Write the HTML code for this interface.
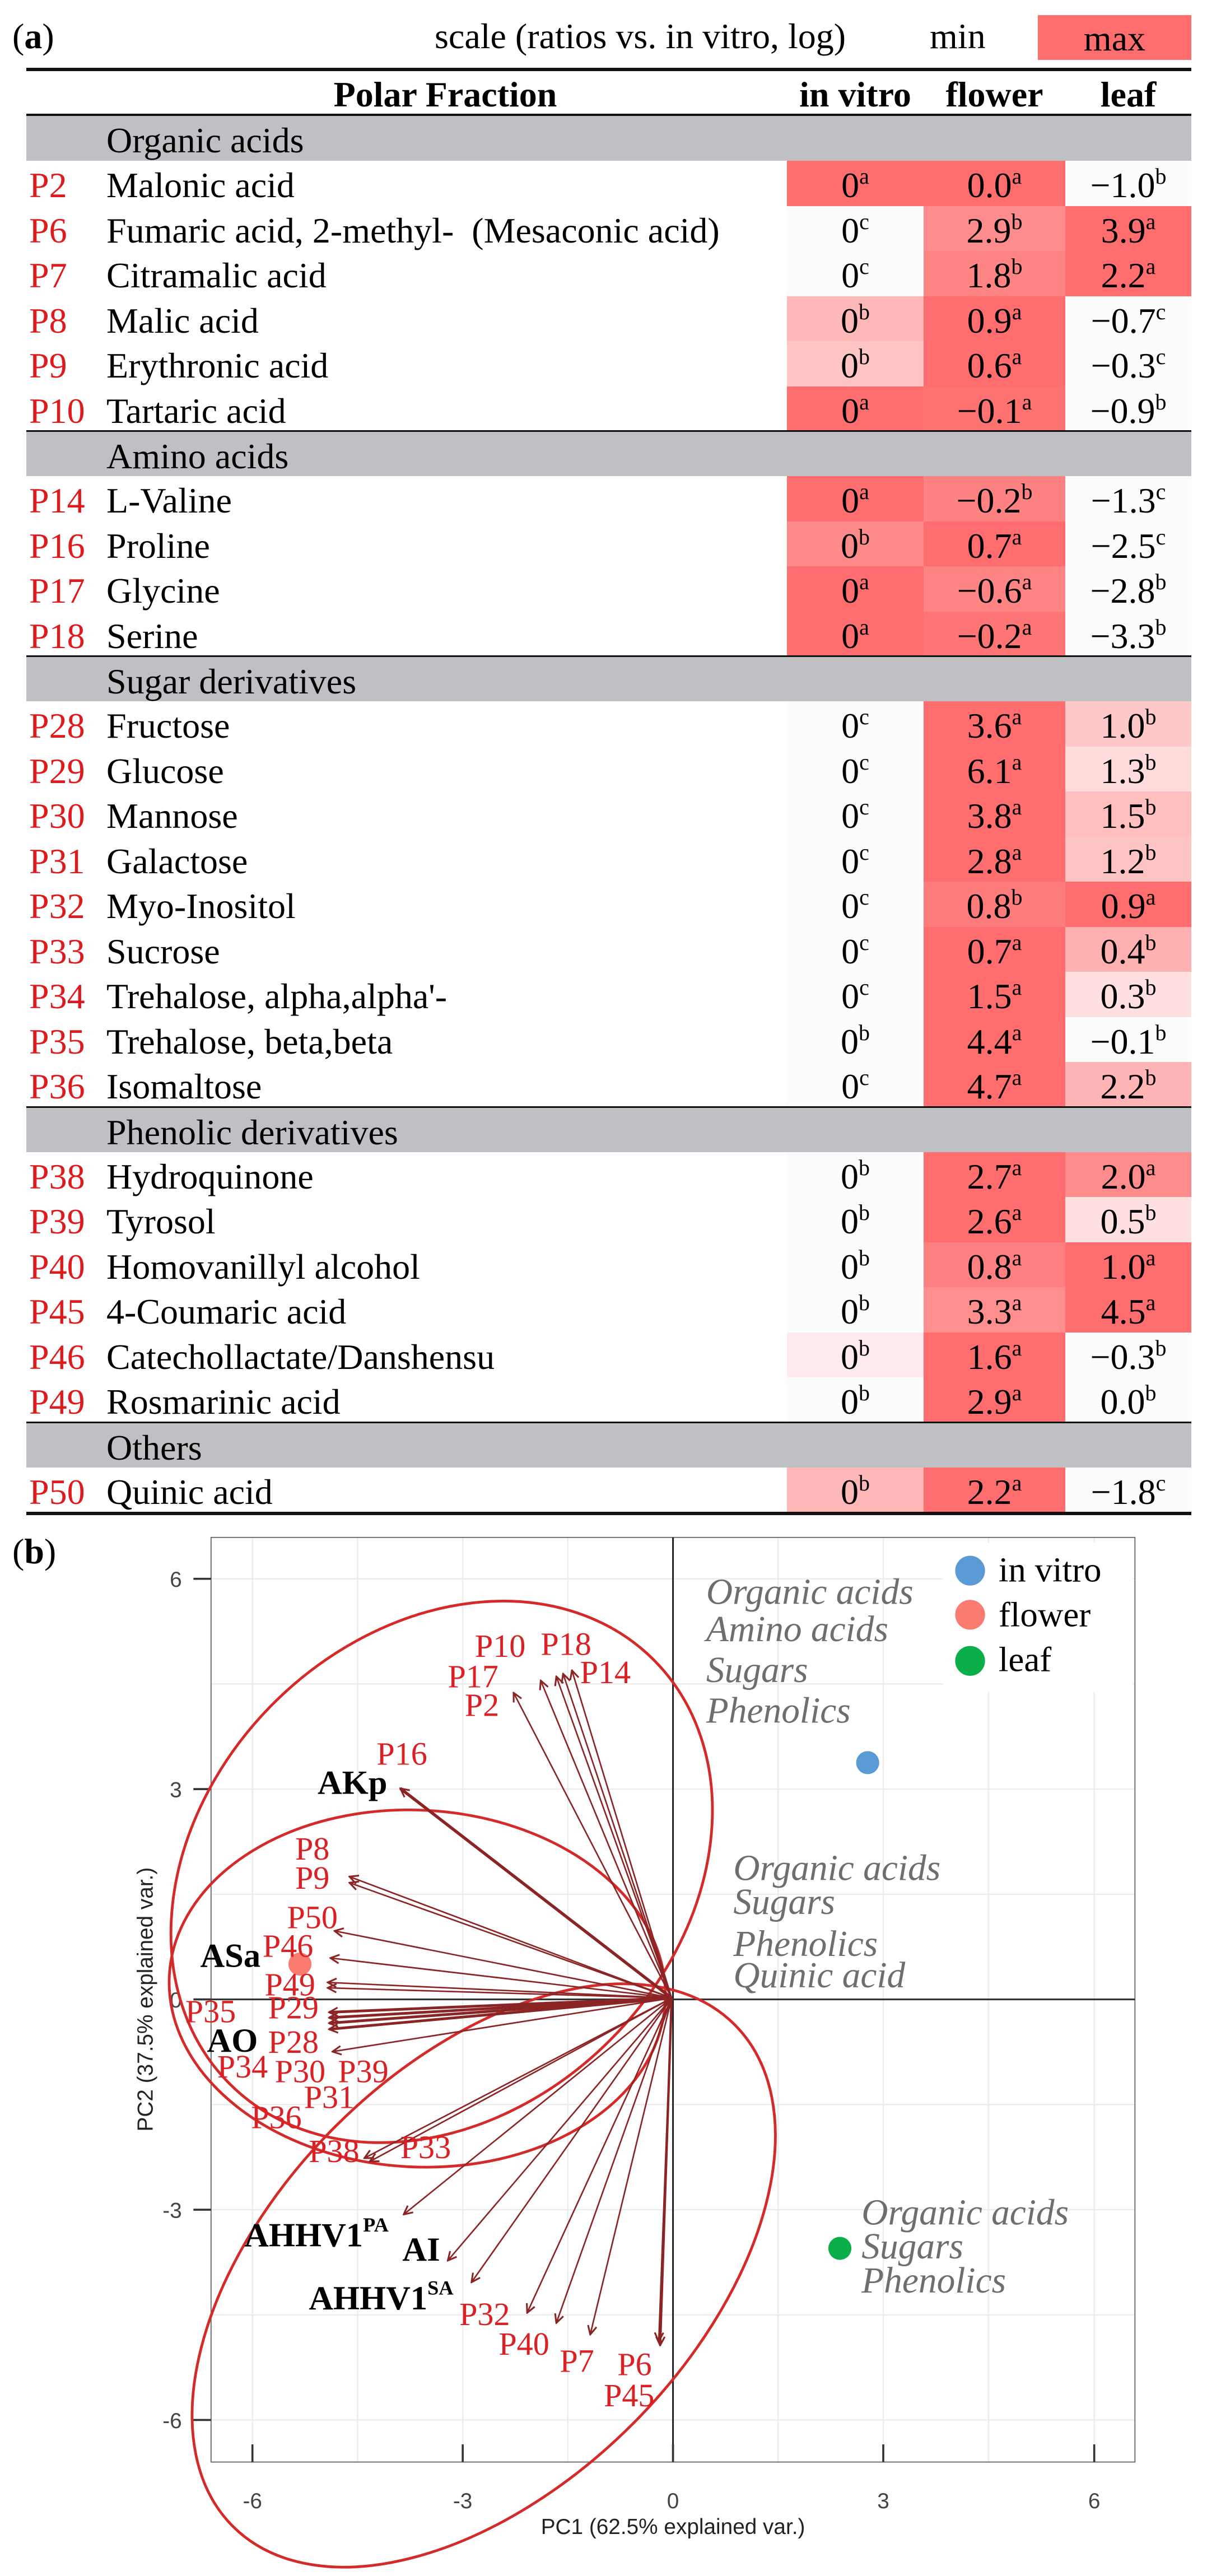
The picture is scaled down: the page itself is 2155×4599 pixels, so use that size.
<!DOCTYPE html>
<html><head><meta charset="utf-8">
<style>
html,body{margin:0;padding:0;background:#fff;}
body{width:2155px;height:4599px;position:relative;overflow:hidden;font-family:"Liberation Serif",serif;font-size:64px;color:#000;}
.abs{position:absolute;}
.line{position:absolute;left:47px;width:2080px;background:#111;}
.r{position:absolute;left:0;width:2155px;height:81px;line-height:88px;white-space:nowrap;}
.p{position:absolute;left:52px;color:#e0191c;}
.n{position:absolute;left:190px;}
.c{position:absolute;top:0;height:81px;text-align:center;background:#fcfcfc;}
.c1{left:1405px;width:244px;}.c2{left:1649px;width:253px;}.c3{left:1902px;width:225px;}
.S{background:#ff6d6e;}
sup{font-size:40px;vertical-align:24px;line-height:0;}
.g{position:absolute;left:47px;width:2080px;height:80px;background:#bfc0c3;line-height:88px;white-space:nowrap;}
.g span{position:absolute;left:143px;}
.h{position:absolute;top:127px;height:78px;line-height:84px;font-weight:bold;text-align:center;}
</style></head><body>
<div class="abs" style="left:22px;top:20px;line-height:90px;">(<b>a</b>)</div>
<div class="abs" style="left:776px;top:20px;line-height:90px;white-space:nowrap;">scale (ratios vs. in vitro, log)</div>
<div class="abs" style="left:1660px;top:20px;line-height:90px;">min</div>
<div class="abs" style="left:1853px;top:27px;width:274px;height:80px;background:#ff6d6e;text-align:center;line-height:84px;">max</div>
<div class="line" style="top:121px;height:6px;"></div>
<div class="h" style="left:560px;width:470px;">Polar Fraction</div>
<div class="h" style="left:1405px;width:244px;">in vitro</div>
<div class="h" style="left:1649px;width:253px;">flower</div>
<div class="h" style="left:1902px;width:225px;">leaf</div>
<div class="line" style="top:203px;height:4px;"></div>

<div class="g" style="top:207px;"><span>Organic acids</span></div>
<div class="r" style="top:287px"><span class="p">P2</span><span class="n">Malonic acid</span><div class="c c1 S">0<sup>a</sup></div><div class="c c2 S">0.0<sup>a</sup></div><div class="c c3">−1.0<sup>b</sup></div></div>
<div class="r" style="top:367.5px"><span class="p">P6</span><span class="n">Fumaric acid, 2-methyl-&nbsp; (Mesaconic acid)</span><div class="c c1">0<sup>c</sup></div><div class="c c2" style="background:#ff8c8c">2.9<sup>b</sup></div><div class="c c3 S">3.9<sup>a</sup></div></div>
<div class="r" style="top:448px"><span class="p">P7</span><span class="n">Citramalic acid</span><div class="c c1">0<sup>c</sup></div><div class="c c2" style="background:#ff8585">1.8<sup>b</sup></div><div class="c c3 S">2.2<sup>a</sup></div></div>
<div class="r" style="top:528.5px"><span class="p">P8</span><span class="n">Malic acid</span><div class="c c1" style="background:#ffb8b8">0<sup>b</sup></div><div class="c c2 S">0.9<sup>a</sup></div><div class="c c3">−0.7<sup>c</sup></div></div>
<div class="r" style="top:609px"><span class="p">P9</span><span class="n">Erythronic acid</span><div class="c c1" style="background:#ffc5c5">0<sup>b</sup></div><div class="c c2 S">0.6<sup>a</sup></div><div class="c c3">−0.3<sup>c</sup></div></div>
<div class="r" style="top:689.5px"><span class="p">P10</span><span class="n">Tartaric acid</span><div class="c c1 S">0<sup>a</sup></div><div class="c c2" style="background:#ff7272">−0.1<sup>a</sup></div><div class="c c3">−0.9<sup>b</sup></div></div>

<div class="line" style="top:768px;height:3px;"></div>
<div class="g" style="top:771px;height:79px;"><span>Amino acids</span></div>
<div class="r" style="top:850px"><span class="p">P14</span><span class="n">L-Valine</span><div class="c c1 S">0<sup>a</sup></div><div class="c c2" style="background:#ff8282">−0.2<sup>b</sup></div><div class="c c3">−1.3<sup>c</sup></div></div>
<div class="r" style="top:930.5px"><span class="p">P16</span><span class="n">Proline</span><div class="c c1" style="background:#ff8a8a">0<sup>b</sup></div><div class="c c2 S">0.7<sup>a</sup></div><div class="c c3">−2.5<sup>c</sup></div></div>
<div class="r" style="top:1011px"><span class="p">P17</span><span class="n">Glycine</span><div class="c c1 S">0<sup>a</sup></div><div class="c c2" style="background:#ff8585">−0.6<sup>a</sup></div><div class="c c3">−2.8<sup>b</sup></div></div>
<div class="r" style="top:1091.5px"><span class="p">P18</span><span class="n">Serine</span><div class="c c1 S">0<sup>a</sup></div><div class="c c2" style="background:#ff7474">−0.2<sup>a</sup></div><div class="c c3">−3.3<sup>b</sup></div></div>

<div class="line" style="top:1170px;height:3px;"></div>
<div class="g" style="top:1173px;height:79px;"><span>Sugar derivatives</span></div>
<div class="r" style="top:1252px"><span class="p">P28</span><span class="n">Fructose</span><div class="c c1">0<sup>c</sup></div><div class="c c2 S">3.6<sup>a</sup></div><div class="c c3" style="background:#ffc8c8">1.0<sup>b</sup></div></div>
<div class="r" style="top:1332.5px"><span class="p">P29</span><span class="n">Glucose</span><div class="c c1">0<sup>c</sup></div><div class="c c2 S">6.1<sup>a</sup></div><div class="c c3" style="background:#ffdcdc">1.3<sup>b</sup></div></div>
<div class="r" style="top:1413px"><span class="p">P30</span><span class="n">Mannose</span><div class="c c1">0<sup>c</sup></div><div class="c c2 S">3.8<sup>a</sup></div><div class="c c3" style="background:#ffbfbf">1.5<sup>b</sup></div></div>
<div class="r" style="top:1493.5px"><span class="p">P31</span><span class="n">Galactose</span><div class="c c1">0<sup>c</sup></div><div class="c c2 S">2.8<sup>a</sup></div><div class="c c3" style="background:#ffc4c4">1.2<sup>b</sup></div></div>
<div class="r" style="top:1574px"><span class="p">P32</span><span class="n">Myo-Inositol</span><div class="c c1">0<sup>c</sup></div><div class="c c2" style="background:#ff7c7c">0.8<sup>b</sup></div><div class="c c3 S">0.9<sup>a</sup></div></div>
<div class="r" style="top:1654.5px"><span class="p">P33</span><span class="n">Sucrose</span><div class="c c1">0<sup>c</sup></div><div class="c c2 S">0.7<sup>a</sup></div><div class="c c3" style="background:#ffb0b0">0.4<sup>b</sup></div></div>
<div class="r" style="top:1735px"><span class="p">P34</span><span class="n">Trehalose, alpha,alpha'-</span><div class="c c1">0<sup>c</sup></div><div class="c c2 S">1.5<sup>a</sup></div><div class="c c3" style="background:#ffe0e0">0.3<sup>b</sup></div></div>
<div class="r" style="top:1815.5px"><span class="p">P35</span><span class="n">Trehalose, beta,beta</span><div class="c c1">0<sup>b</sup></div><div class="c c2 S">4.4<sup>a</sup></div><div class="c c3">−0.1<sup>b</sup></div></div>
<div class="r" style="top:1896px"><span class="p">P36</span><span class="n">Isomaltose</span><div class="c c1">0<sup>c</sup></div><div class="c c2 S">4.7<sup>a</sup></div><div class="c c3" style="background:#ffb5b5">2.2<sup>b</sup></div></div>

<div class="line" style="top:1975px;height:3px;"></div>
<div class="g" style="top:1978px;height:79px;"><span>Phenolic derivatives</span></div>
<div class="r" style="top:2056.5px"><span class="p">P38</span><span class="n">Hydroquinone</span><div class="c c1">0<sup>b</sup></div><div class="c c2 S">2.7<sup>a</sup></div><div class="c c3" style="background:#ff8c8c">2.0<sup>a</sup></div></div>
<div class="r" style="top:2137px"><span class="p">P39</span><span class="n">Tyrosol</span><div class="c c1">0<sup>b</sup></div><div class="c c2 S">2.6<sup>a</sup></div><div class="c c3" style="background:#ffe0e0">0.5<sup>b</sup></div></div>
<div class="r" style="top:2217.5px"><span class="p">P40</span><span class="n">Homovanillyl alcohol</span><div class="c c1">0<sup>b</sup></div><div class="c c2" style="background:#ff8080">0.8<sup>a</sup></div><div class="c c3 S">1.0<sup>a</sup></div></div>
<div class="r" style="top:2298px"><span class="p">P45</span><span class="n">4-Coumaric acid</span><div class="c c1">0<sup>b</sup></div><div class="c c2" style="background:#ff8f8f">3.3<sup>a</sup></div><div class="c c3 S">4.5<sup>a</sup></div></div>
<div class="r" style="top:2378.5px"><span class="p">P46</span><span class="n">Catechollactate/Danshensu</span><div class="c c1" style="background:#ffebee">0<sup>b</sup></div><div class="c c2 S">1.6<sup>a</sup></div><div class="c c3">−0.3<sup>b</sup></div></div>
<div class="r" style="top:2459px"><span class="p">P49</span><span class="n">Rosmarinic acid</span><div class="c c1">0<sup>b</sup></div><div class="c c2 S">2.9<sup>a</sup></div><div class="c c3">0.0<sup>b</sup></div></div>

<div class="line" style="top:2538px;height:3px;"></div>
<div class="g" style="top:2541px;height:79px;"><span>Others</span></div>
<div class="r" style="top:2619.5px"><span class="p">P50</span><span class="n">Quinic acid</span><div class="c c1" style="background:#ffb8b8">0<sup>b</sup></div><div class="c c2 S">2.2<sup>a</sup></div><div class="c c3">−1.8<sup>c</sup></div></div>
<div class="line" style="top:2699px;height:6px;"></div>

<div class="abs" style="left:22px;top:2728px;line-height:84px;">(<b>b</b>)</div>

<svg class="abs" style="left:200px;top:2700px;" width="1899" height="1899" viewBox="0 0 1568 1568" xmlns="http://www.w3.org/2000/svg">
<defs>
<marker id="ah" viewBox="0 0 10 10" refX="9" refY="5" markerWidth="16" markerHeight="16" markerUnits="userSpaceOnUse" orient="auto"><path d="M1,1 L9,5 L1,9" fill="none" stroke="#8b2525" stroke-width="1.6"/></marker>
</defs>
<rect x="146" y="37" width="1362" height="1363" fill="#fff"/>
<g stroke="#ececec" stroke-width="2">
<line x1="207" y1="37" x2="207" y2="1400"/><line x1="362" y1="37" x2="362" y2="1400"/><line x1="517" y1="37" x2="517" y2="1400"/><line x1="672" y1="37" x2="672" y2="1400"/><line x1="982" y1="37" x2="982" y2="1400"/><line x1="1137" y1="37" x2="1137" y2="1400"/><line x1="1292" y1="37" x2="1292" y2="1400"/><line x1="1448" y1="37" x2="1448" y2="1400"/>
<line x1="146" y1="98" x2="1508" y2="98"/><line x1="146" y1="253" x2="1508" y2="253"/><line x1="146" y1="408" x2="1508" y2="408"/><line x1="146" y1="563" x2="1508" y2="563"/><line x1="146" y1="873" x2="1508" y2="873"/><line x1="146" y1="1028" x2="1508" y2="1028"/><line x1="146" y1="1183" x2="1508" y2="1183"/><line x1="146" y1="1338" x2="1508" y2="1338"/>
</g>
<rect x="146" y="37" width="1362" height="1363" fill="none" stroke="#666" stroke-width="1.5"/>
<line x1="827" y1="37" x2="827" y2="1400" stroke="#222" stroke-width="2.5"/>
<line x1="146" y1="718" x2="1508" y2="718" stroke="#333" stroke-width="2.5"/>
<g stroke="#333" stroke-width="3">
<line x1="120" y1="98" x2="146" y2="98"/><line x1="120" y1="408" x2="146" y2="408"/><line x1="120" y1="718" x2="146" y2="718"/><line x1="120" y1="1028" x2="146" y2="1028"/><line x1="120" y1="1338" x2="146" y2="1338"/>
<line x1="207" y1="1374" x2="207" y2="1400"/><line x1="517" y1="1374" x2="517" y2="1400"/><line x1="827" y1="1374" x2="827" y2="1400"/><line x1="1137" y1="1374" x2="1137" y2="1400"/><line x1="1448" y1="1374" x2="1448" y2="1400"/>
</g>
<g font-family="Liberation Sans, sans-serif" font-size="32" fill="#444">
<text x="103" y="110" text-anchor="end">6</text><text x="103" y="420" text-anchor="end">3</text><text x="103" y="730" text-anchor="end">0</text><text x="103" y="1040" text-anchor="end">-3</text><text x="103" y="1350" text-anchor="end">-6</text>
<text x="207" y="1468" text-anchor="middle">-6</text><text x="517" y="1468" text-anchor="middle">-3</text><text x="827" y="1468" text-anchor="middle">0</text><text x="1137" y="1468" text-anchor="middle">3</text><text x="1448" y="1468" text-anchor="middle">6</text>
<text x="827" y="1506" text-anchor="middle" fill="#222">PC1 (62.5% explained var.)</text>
<text transform="translate(60,718) rotate(-90)" text-anchor="middle" fill="#222">PC2 (37.5% explained var.)</text>
</g>
<g fill="none" stroke="#d42a2a" stroke-width="4">
<ellipse cx="486" cy="530" rx="442" ry="351" transform="rotate(-45 486 530)"/>
<ellipse cx="450" cy="702" rx="366" ry="263" transform="rotate(3 450 702)"/>
<ellipse cx="548" cy="1125" rx="523" ry="310" transform="rotate(-45 548 1125)"/>
</g>
<g stroke="#8b2525" stroke-width="2.2" marker-end="url(#ah)">
<line x1="825" y1="716" x2="592" y2="266"/><line x1="825" y1="716" x2="632" y2="248"/><line x1="825" y1="716" x2="655" y2="242"/><line x1="825" y1="716" x2="665" y2="238"/><line x1="825" y1="716" x2="678" y2="233"/>
<line x1="825" y1="716" x2="425" y2="407" stroke-width="4.5"/>
<line x1="825" y1="716" x2="350" y2="537"/><line x1="825" y1="716" x2="350" y2="546"/><line x1="825" y1="716" x2="328" y2="617"/><line x1="825" y1="716" x2="322" y2="657"/><line x1="825" y1="716" x2="318" y2="693"/><line x1="825" y1="716" x2="318" y2="701"/>
<line x1="825" y1="716" x2="320" y2="737" stroke-width="4"/><line x1="825" y1="716" x2="320" y2="745" stroke-width="4"/><line x1="825" y1="716" x2="320" y2="753" stroke-width="4"/><line x1="825" y1="716" x2="320" y2="762" stroke-width="4"/>
<line x1="825" y1="716" x2="325" y2="795"/><line x1="825" y1="716" x2="372" y2="952"/><line x1="825" y1="716" x2="380" y2="957"/>
<line x1="825" y1="716" x2="430" y2="1035"/><line x1="825" y1="716" x2="495" y2="1103"/><line x1="825" y1="716" x2="530" y2="1135"/><line x1="825" y1="716" x2="612" y2="1180"/><line x1="825" y1="716" x2="655" y2="1195"/><line x1="825" y1="716" x2="705" y2="1212"/>
<line x1="825" y1="716" x2="808" y2="1228" stroke-width="3.5"/><line x1="825" y1="716" x2="806" y2="1222"/>
</g>
<circle cx="1114" cy="369" r="17" fill="#5b9bd5"/>
<circle cx="277" cy="666" r="17" fill="#fa7b70"/>
<circle cx="1073" cy="1085" r="17" fill="#0aaf4a"/>
<g font-family="Liberation Serif, serif" font-size="48" fill="#dc1f22">
<text x="535" y="213">P10</text><text x="632" y="210">P18</text><text x="495" y="258">P17</text><text x="690" y="252">P14</text><text x="520" y="300">P2</text><text x="390" y="372">P16</text>
<text x="270" y="512">P8</text><text x="270" y="555">P9</text><text x="258" y="613">P50</text><text x="222" y="655">P46</text><text x="225" y="712">P49</text><text x="108" y="752">P35</text><text x="230" y="746">P29</text><text x="230" y="797">P28</text>
<text x="155" y="833">P34</text><text x="240" y="840">P30</text><text x="333" y="840">P39</text><text x="283" y="878">P31</text><text x="205" y="908">P36</text><text x="290" y="958">P38</text><text x="425" y="952">P33</text>
<text x="512" y="1198">P32</text><text x="570" y="1242">P40</text><text x="660" y="1267">P7</text><text x="745" y="1272">P6</text><text x="725" y="1318">P45</text>
</g>
<g font-family="Liberation Serif, serif" font-size="50" font-weight="bold" fill="#000">
<text x="303" y="415">AKp</text><text x="130" y="670">ASa</text><text x="140" y="795">AO</text>
<text x="195" y="1082">AHHV1<tspan font-size="30" dy="-22">PA</tspan></text>
<text x="428" y="1103">AI</text>
<text x="290" y="1175">AHHV1<tspan font-size="30" dy="-22">SA</tspan></text>
</g>
<g font-family="Liberation Serif, serif" font-size="54" font-style="italic" fill="#6e6e6e">
<text x="876" y="135">Organic acids</text><text x="876" y="190">Amino acids</text><text x="876" y="250">Sugars</text><text x="876" y="310">Phenolics</text>
<text x="916" y="542">Organic acids</text><text x="916" y="592">Sugars</text><text x="916" y="654">Phenolics</text><text x="916" y="700">Quinic acid</text>
<text x="1105" y="1050">Organic acids</text><text x="1105" y="1100">Sugars</text><text x="1105" y="1150">Phenolics</text>
</g>
<rect x="1225" y="45" width="280" height="220" fill="#fff"/>
<circle cx="1265" cy="86" r="22" fill="#5b9bd5"/><circle cx="1265" cy="151" r="22" fill="#fa7b70"/><circle cx="1265" cy="219" r="22" fill="#0aaf4a"/>
<g font-family="Liberation Serif, serif" font-size="52" fill="#000">
<text x="1307" y="102">in vitro</text><text x="1307" y="168">flower</text><text x="1307" y="234">leaf</text>
</g>
</svg>
</body></html>
